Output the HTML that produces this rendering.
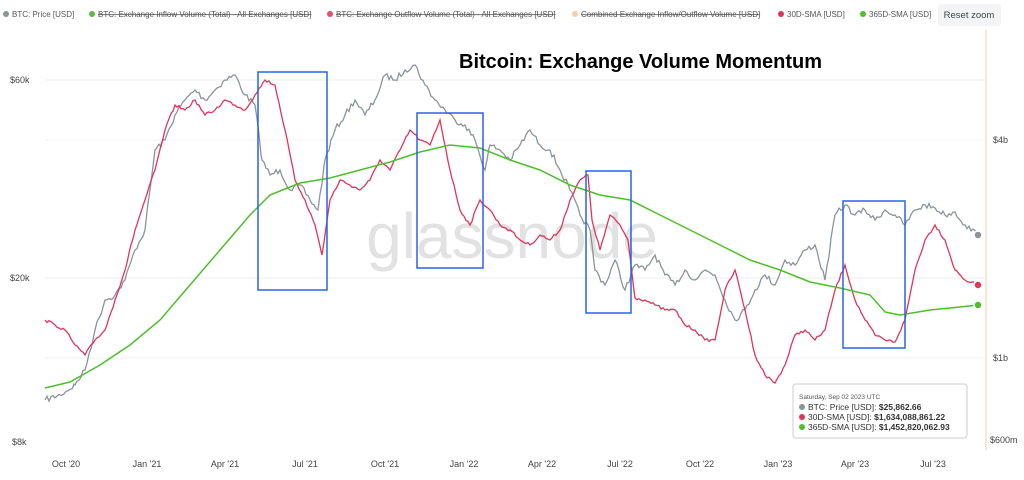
<!DOCTYPE html>
<html><head><meta charset="utf-8"><style>
body{margin:0;background:#fff;width:1024px;height:475px;overflow:hidden;font-family:"Liberation Sans",sans-serif}
</style></head><body>
<svg width="1024" height="475" xmlns="http://www.w3.org/2000/svg" font-family="Liberation Sans, sans-serif">
<g font-size="8" fill="#555">
<circle cx="6" cy="14" r="3" fill="#8a9499"/><text x="12" y="17">BTC: Price [USD]</text>
<circle cx="92" cy="14" r="3" fill="#5cb84a"/><text x="98" y="17" text-decoration="line-through">BTC: Exchange Inflow Volume (Total) - All Exchanges [USD]</text>
<circle cx="330" cy="14" r="3" fill="#e84a6a"/><text x="336" y="17" text-decoration="line-through">BTC: Exchange Outflow Volume (Total) - All Exchanges [USD]</text>
<circle cx="575" cy="14" r="3" fill="#f0d0b0"/><text x="581" y="17" text-decoration="line-through">Combined Exchange Inflow/Outflow Volume [USD]</text>
<circle cx="781" cy="14" r="3" fill="#e0355a"/><text x="787" y="17">30D-SMA [USD]</text>
<circle cx="863" cy="14" r="3" fill="#4cbf2a"/><text x="869" y="17">365D-SMA [USD]</text>
</g>
<rect x="938" y="4" width="63" height="22" rx="3" fill="#f3f4f6"/>
<text x="969" y="18" font-size="9.5" fill="#444" text-anchor="middle">Reset zoom</text>
<line x1="45" y1="80" x2="985" y2="80" stroke="#eee"/>
<line x1="45" y1="278" x2="985" y2="278" stroke="#eee"/>
<line x1="45" y1="140" x2="985" y2="140" stroke="#f3f3f3"/>
<line x1="45" y1="358" x2="985" y2="358" stroke="#f3f3f3"/>
<line x1="986" y1="30" x2="986" y2="450" stroke="#f5c9a8"/>
<g font-size="9" fill="#444">
<text x="10" y="83">$60k</text><text x="10" y="281">$20k</text><text x="12" y="445">$8k</text>
<text x="993" y="143">$4b</text><text x="993" y="361">$1b</text><text x="990" y="443">$600m</text>
<g text-anchor="middle"><text x="66" y="467">Oct '20</text><text x="147" y="467">Jan '21</text><text x="225" y="467">Apr '21</text><text x="305" y="467">Jul '21</text><text x="385" y="467">Oct '21</text><text x="464" y="467">Jan '22</text><text x="542" y="467">Apr '22</text><text x="620" y="467">Jul '22</text><text x="700" y="467">Oct '22</text><text x="778" y="467">Jan '23</text><text x="855" y="467">Apr '23</text><text x="933" y="467">Jul '23</text></g>
</g>
<text x="512" y="258" font-size="64" fill="#e2e2e2" text-anchor="middle">glassnode</text>
<polyline id="gp" fill="none" stroke="#8a9499" stroke-width="1.3" points="45,400 60,395 75,385 85,370 95,330 105,300 115,295 125,280 135,250 145,230 155,150 165,140 175,115 185,100 195,90 205,100 215,90 225,80 235,75 245,95 255,105 262,160 270,175 280,170 290,190 300,185 310,200 318,210 325,160 335,130 345,115 355,100 365,115 375,100 385,75 395,80 405,70 415,65 425,85 435,100 445,110 455,120 465,125 475,140 485,170 490,145 500,150 510,160 520,145 530,130 540,145 550,150 560,170 570,190 580,215 590,230 595,270 605,285 615,260 625,290 635,265 645,270 655,255 665,275 675,285 685,270 695,280 705,270 715,275 725,300 735,320 745,310 755,290 765,275 775,285 785,260 795,265 805,250 815,245 825,280 835,215 845,205 855,215 865,210 875,220 885,210 895,215 905,225 915,210 925,205 935,208 945,215 955,212 965,225 978,235"/>
<polyline id="rp" fill="none" stroke="#e0355a" stroke-width="1.3" points="45,320 55,325 65,330 75,345 85,355 95,340 105,330 115,300 125,270 135,230 145,200 155,170 165,130 175,105 185,110 195,100 205,115 215,110 225,100 235,105 245,110 255,95 265,80 275,85 285,130 295,180 305,200 315,225 322,255 330,200 340,180 350,185 360,190 370,180 380,160 390,170 400,150 410,130 420,140 430,145 440,120 450,170 460,210 470,225 480,200 490,210 500,225 510,230 520,240 530,245 540,235 550,240 560,230 570,200 580,180 588,175 592,220 600,250 610,215 620,225 628,240 635,298 645,300 655,305 665,310 675,310 685,325 695,330 705,340 715,340 725,290 735,270 745,310 755,355 765,375 775,383 785,365 795,335 805,330 815,340 825,330 835,290 845,265 855,300 865,320 875,335 885,340 895,342 905,320 915,270 925,240 935,225 945,240 955,270 965,280 978,285"/>
<polyline fill="none" stroke="#4cbf2a" stroke-width="1.5" points="45,388 70,382 100,365 130,345 160,320 190,285 220,250 250,215 270,195 300,183 330,178 360,170 390,162 420,152 450,145 480,148 510,160 540,170 570,185 600,195 630,200 660,215 690,230 720,245 750,260 780,270 810,282 840,288 870,295 885,312 900,315 930,310 960,307 978,305"/>
<circle cx="978" cy="235" r="4" fill="#8a9499" stroke="#fff" stroke-width="1.5"/>
<circle cx="978" cy="285" r="4" fill="#e0355a" stroke="#fff" stroke-width="1.5"/>
<circle cx="978" cy="305" r="4" fill="#4cbf2a" stroke="#fff" stroke-width="1.5"/>
<g fill="none" stroke="#2563eb" stroke-width="1.5">
<rect x="258" y="72" width="69" height="218"/><rect x="417" y="113" width="66" height="155"/><rect x="586" y="171" width="45" height="142"/><rect x="843" y="201" width="62" height="147"/>
</g>
<text x="459" y="68" font-size="20" font-weight="bold" fill="#000">Bitcoin: Exchange Volume Momentum</text>
<rect x="793" y="384" width="174" height="54" rx="3" fill="#fff" stroke="#ccc" stroke-width="1"/>
<g font-size="8.5" fill="#333">
<text x="799" y="399" font-size="6.5" fill="#555">Saturday, Sep 02 2023 UTC</text>
<circle cx="802" cy="407" r="3" fill="#8a9499"/><text x="808" y="410">BTC: Price [USD]: <tspan font-weight="bold">$25,862.66</tspan></text>
<circle cx="802" cy="417" r="3" fill="#e0355a"/><text x="808" y="420">30D-SMA [USD]: <tspan font-weight="bold">$1,634,088,861.22</tspan></text>
<circle cx="802" cy="427" r="3" fill="#4cbf2a"/><text x="808" y="430">365D-SMA [USD]: <tspan font-weight="bold">$1,452,820,062.93</tspan></text>
</g>
</svg>
<script>
(function(){
var seed=7;function rnd(){seed=(seed*16807)%2147483647;return seed/2147483647-0.5;}
function jit(id,amp){var el=document.getElementById(id);var p=el.getAttribute('points').trim().split(/\s+/).map(function(s){return s.split(',').map(Number)});
var out=[];for(var i=0;i<p.length-1;i++){var a=p[i],b=p[i+1];for(var x=a[0];x<b[0];x+=2){var t=(x-a[0])/(b[0]-a[0]);var y=a[1]+(b[1]-a[1])*t;if(x!==a[0])y+=rnd()*amp*2;out.push(x+','+y.toFixed(1));}}
out.push(p[p.length-1].join(','));el.setAttribute('points',out.join(' '));}
jit('gp',3);jit('rp',1.5);
})();
</script>
</body></html>
